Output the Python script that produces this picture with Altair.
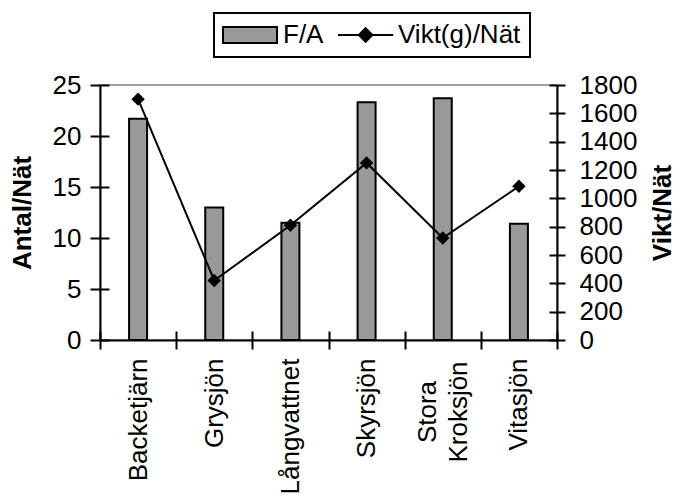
import altair as alt
import pandas as pd

# Catch per net and weight per net for each lake
lakes = ["Backetjärn", "Grysjön", "Långvattnet", "Skyrsjön", "Stora Kroksjön", "Vitasjön"]
fa_per_net = [21.7, 13.0, 11.5, 23.3, 23.7, 11.4]
weight_per_net = [1700, 420, 810, 1250, 720, 1085]

series_names = ["F/A", "Vikt(g)/Nät"]
series_fills = ["#999999", "#000000"]
series_strokes = ["#000000", "#000000"]

left_ticks = [0, 5, 10, 15, 20, 25]
right_ticks = [0, 200, 400, 600, 800, 1000, 1200, 1400, 1600, 1800]

# legend swatches: a wide bar and a line with a diamond on it
bar_swatch = "M-1.625,-1H5.125V1H-1.625Z"
line_swatch = "M-1.625,0H5.275M1.825,-0.85L2.675,0L1.825,0.85L0.975,0Z"

df = pd.DataFrame({"lake": lakes, "fa": fa_per_net, "vikt": weight_per_net})
legend_df = pd.DataFrame({"series": series_names})

FONT = "Liberation Sans"
FS = 26
W, H = 457, 255

x_scale = alt.Scale(domain=lakes, paddingInner=0, paddingOuter=0)
left_scale = alt.Scale(domain=[0, 25], nice=False)
right_scale = alt.Scale(domain=[0, 1800], nice=False)

common = dict(labelFont=FONT, labelFontSize=FS, labelColor="black",
              tickColor="black", tickWidth=2, domainColor="black",
              domainWidth=2, grid=False)

# one-word names are axis labels; names of two words are set as text below
x_axis = alt.Axis(title=None, tickBand="extent", tickSize=9, labelAngle=270,
                  labelAlign="right", labelBaseline="middle", labelPadding=9,
                  labelExpr="indexof(datum.label, ' ') < 0 ? datum.label : ''",
                  zindex=1, **common)

left_axis = alt.Axis(values=left_ticks, orient="left", tickSize=10,
                     labelPadding=9, title="Antal/Nät", titleFont=FONT,
                     titleFontSize=FS, titleFontWeight="bold",
                     titleColor="black", titleAngle=270, titleX=-78,
                     titleY=H / 2, titleAlign="center",
                     titleBaseline="middle", zindex=1, **common)

right_axis = alt.Axis(values=right_ticks, orient="right", tickSize=8,
                      labelPadding=14, format="d", title="Vikt/Nät",
                      titleFont=FONT, titleFontSize=FS,
                      titleFontWeight="bold", titleColor="black",
                      titleAngle=270, titleX=105, titleY=H / 2,
                      titleAlign="center", titleBaseline="middle",
                      zindex=1, **common)

# inner halves of the tick marks, so that ticks cross the axis lines
inner = dict(labels=False, domain=False, grid=False, title=None,
             tickColor="black", tickWidth=2, zindex=1)
x_inner = alt.Axis(orient="bottom", offset=-9, tickSize=9, tickBand="extent", **inner)
left_inner = alt.Axis(orient="left", offset=-9, tickSize=9, values=left_ticks, **inner)
right_inner = alt.Axis(orient="right", offset=-8, tickSize=8, values=right_ticks, **inner)

bars = alt.Chart(df).mark_bar(size=18).encode(
    x=alt.X("lake:N", scale=x_scale, axis=x_axis, sort=lakes),
    y=alt.Y("fa:Q", scale=left_scale, axis=left_axis),
    fill=alt.value("#999999"),
    stroke=alt.value("black"),
    strokeWidth=alt.value(2),
)

# two-line lake names, lines centred on each other under their band
long_names = alt.Chart(df).transform_filter(
    "indexof(datum.lake, ' ') >= 0"
).mark_text(angle=270, align="center", baseline="middle", lineBreak=" ",
            lineHeight=31, dy=-15, font=FONT, fontSize=FS,
            color="black").encode(
    x=alt.X("lake:N", scale=x_scale, axis=None, sort=lakes),
    y=alt.value(H + 72),
    text="lake:N",
)

line = alt.Chart(df).mark_line(color="black", strokeWidth=2).encode(
    x=alt.X("lake:N", scale=x_scale, axis=None, sort=lakes),
    y=alt.Y("vikt:Q", scale=right_scale, axis=right_axis),
)

markers = alt.Chart(df).mark_point(shape="diamond", filled=True,
                                   color="black", size=180,
                                   opacity=1).encode(
    x=alt.X("lake:N", scale=x_scale, axis=None, sort=lakes),
    y=alt.Y("vikt:Q", scale=right_scale, axis=right_inner),
)

legend_def = alt.Legend(title=None, orient="none", legendX=114, legendY=-72,
                        direction="horizontal", strokeColor="black",
                        padding=9, columnPadding=10, labelOffset=34,
                        labelFont=FONT, labelFontSize=FS, labelColor="black",
                        symbolSize=256, symbolStrokeWidth=2,
                        symbolStrokeColor="black", symbolOpacity=1)

key = alt.Chart(legend_df).transform_filter("false").mark_point(
    filled=True, strokeWidth=2, size=256, opacity=1
).encode(
    x=alt.X("lake:N", scale=x_scale, axis=x_inner, sort=lakes),
    y=alt.Y("fa:Q", scale=left_scale, axis=left_inner),
    shape=alt.Shape("series:N",
                    scale=alt.Scale(domain=series_names,
                                    range=[bar_swatch, line_swatch]),
                    legend=legend_def),
    fill=alt.Fill("series:N",
                  scale=alt.Scale(domain=series_names, range=series_fills),
                  legend=legend_def),
    stroke=alt.Stroke("series:N",
                      scale=alt.Scale(domain=series_names, range=series_strokes),
                      legend=legend_def),
)

chart = alt.layer(bars, line, markers, long_names, key).resolve_scale(
    y="independent"
).resolve_axis(
    x="independent", y="independent"
).properties(
    width=W, height=H,
    autosize=alt.AutoSizeParams(type="none"),
    padding={"left": 100, "top": 85, "right": 118, "bottom": 156},
    background="white",
).configure(font=FONT).configure_view(
    stroke="#a0a0a0", strokeWidth=2
).configure_legend(strokeWidth=2)

chart.save("out.html", embed_options={"renderer": "svg", "actions": False})
